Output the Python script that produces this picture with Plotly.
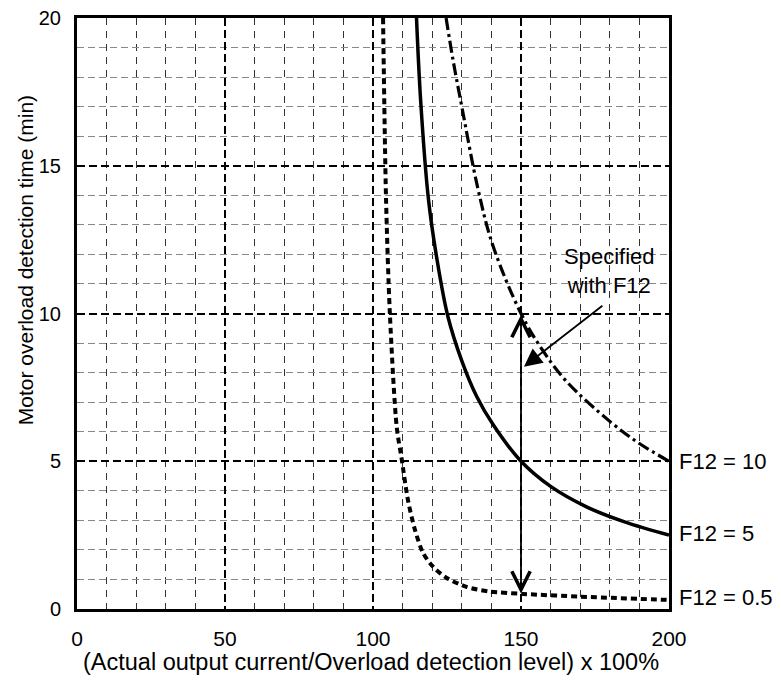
import plotly.graph_objects as go

# F12 = 10 (dash-dot)
x_f12_10 = [124.7, 127.0, 130.0, 135.5, 140.5, 150.0, 157.0, 165.4, 180.0, 190.0, 200.0]
t_f12_10 = [20.0, 18.6, 17.0, 14.2, 12.3, 10.0, 8.8, 7.7, 6.35, 5.6, 5.0]

# F12 = 5 (solid)
x_f12_5 = [114.7, 116.1, 118.7, 121.5, 125.3, 130.0, 135.0, 140.5, 150.0, 160.0, 172.3, 185.0, 200.0]
t_f12_5 = [20.0, 17.2, 13.9, 11.9, 9.9, 8.4, 7.2, 6.25, 5.0, 4.15, 3.45, 2.95, 2.5]

# F12 = 0.5 (dotted)
x_f12_05 = [103.4, 104.4, 105.7, 108.0, 109.7, 111.8, 114.2, 116.9, 120.3, 124.9, 131.6, 139.5, 150.7, 169.9, 199.2]
t_f12_05 = [20.0, 13.9, 10.0, 6.17, 5.07, 3.69, 2.67, 1.9, 1.43, 1.05, 0.75, 0.59, 0.51, 0.42, 0.31]

curve_labels = ["F12 = 10", "F12 = 5", "F12 = 0.5"]
label_y = [5.0, 2.55, 0.4]

x_title = "(Actual output current/Overload detection level) x 100%"
y_title = "Motor overload detection time (min)"

FONT = "Liberation Sans, Arial, sans-serif"
FS = 22

fig = go.Figure()
fig.add_trace(go.Scatter(x=x_f12_05, y=t_f12_05, mode="lines",
                         line=dict(color="black", width=4, dash="6px,4px", shape="spline", smoothing=0.8),
                         showlegend=False, hoverinfo="skip"))
fig.add_trace(go.Scatter(x=x_f12_5, y=t_f12_5, mode="lines",
                         line=dict(color="black", width=3.5, shape="spline", smoothing=1.0),
                         showlegend=False, hoverinfo="skip"))
fig.add_trace(go.Scatter(x=x_f12_10, y=t_f12_10, mode="lines",
                         line=dict(color="black", width=3.2, dash="12px,4px,3px,4px", shape="spline", smoothing=1.0),
                         showlegend=False, hoverinfo="skip"))

# vertical double-headed arrow at 150 %
fig.add_annotation(x=150, y=9.95, ax=150, ay=0.47, xref="x", yref="y", axref="x", ayref="y",
                   text="", showarrow=True, arrowhead=5, startarrowhead=5, arrowside="end+start",
                   arrowsize=2.0, startarrowsize=2.0, arrowwidth=1.8, arrowcolor="black")

# "Specified with F12" text and arrow
fig.add_annotation(x=180, y=11.45, xref="x", yref="y", text="Specified<br>with F12",
                   showarrow=False, font=dict(family=FONT, size=FS, color="black"),
                   align="center")
fig.add_annotation(x=151, y=8.2, ax=178, ay=10.3, xref="x", yref="y", axref="x", ayref="y",
                   text="", showarrow=True, arrowhead=2, arrowsize=2.0, arrowwidth=1.8, arrowcolor="black")

for lab, yy in zip(curve_labels, label_y):
    fig.add_annotation(x=200, y=yy, xref="x", yref="y", text=lab, showarrow=False,
                       xanchor="left", xshift=8, font=dict(family=FONT, size=FS, color="black"))

# axis titles
fig.add_annotation(x=0.497, y=-0.090, xref="paper", yref="paper", text=x_title, showarrow=False,
                   xanchor="center", yanchor="middle", borderpad=0,
                   font=dict(family=FONT, size=23.5, color="black"))
fig.add_annotation(x=-0.088, y=0.590, xref="paper", yref="paper", text=y_title, showarrow=False,
                   textangle=-90, xanchor="center", yanchor="middle", borderpad=0,
                   font=dict(family=FONT, size=21, color="black"))

fig.update_layout(
    width=773, height=674,
    margin=dict(l=69, r=112, t=10, b=73),
    paper_bgcolor="white", plot_bgcolor="white",
    font=dict(family=FONT, size=FS, color="black"),
    xaxis=dict(range=[0, 200], dtick=50, tick0=0, automargin=False,
               showgrid=True, gridcolor="black", gridwidth=1.5, griddash="8px,4px",
               minor=dict(dtick=10, showgrid=True, gridcolor="#333", gridwidth=1, griddash="7px,6px"),
               showline=True, linecolor="black", linewidth=3, mirror=True,
               ticks="", ticklabelstandoff=9, zeroline=False, ticklabeloverflow="allow",
               tickfont=dict(family=FONT, size=21)),
    yaxis=dict(range=[0, 20], dtick=5, tick0=0, automargin=False,
               showgrid=True, gridcolor="black", gridwidth=1.5, griddash="8px,4px",
               minor=dict(dtick=1, showgrid=True, gridcolor="#888", gridwidth=1, griddash="7px,4px"),
               showline=True, linecolor="black", linewidth=3, mirror=True,
               ticks="", ticklabelstandoff=9, zeroline=False, ticklabeloverflow="allow",
               tickfont=dict(family=FONT, size=20)),
)

fig.write_html("out.html")
